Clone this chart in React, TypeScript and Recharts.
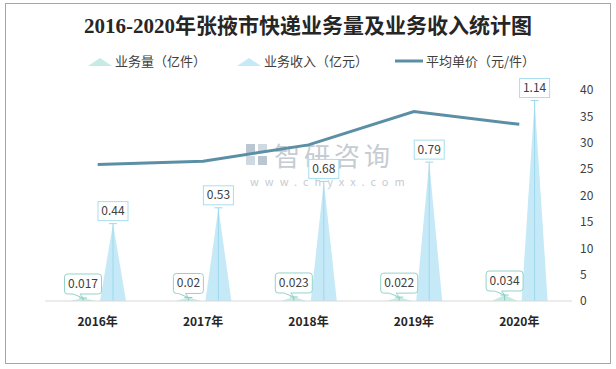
import { Bar, ComposedChart, LabelList, Line, XAxis, YAxis } from "recharts";

const years = ["2016年", "2017年", "2018年", "2019年", "2020年"];
const volume = [0.017, 0.02, 0.023, 0.022, 0.034];
const revenue = [0.44, 0.53, 0.68, 0.79, 1.14];
const unitPrice = [25.9, 26.5, 29.6, 35.9, 33.5];
const priceTicks = [0, 5, 10, 15, 20, 25, 30, 35, 40];

const data = years.map((year, i) => ({
  year,
  volume: volume[i],
  revenue: revenue[i],
  price: unitPrice[i],
}));

const FONT = '"Noto Sans CJK SC", "Noto Sans", sans-serif';

const Peak = (props: any) => {
  const { x, y, width, height, fill, line } = props;
  if (height == null || width == null) return null;
  const cx = x + width / 2;
  const base = y + height;
  return (
    <g>
      <polygon points={`${x},${base} ${cx},${y} ${x + width},${base}`} fill={fill} />
      <line x1={cx} y1={base} x2={cx} y2={y} stroke={line} strokeWidth={1} />
      <line x1={cx - 4} y1={y} x2={cx + 4} y2={y} stroke={line} strokeWidth={1} />
    </g>
  );
};

const RevenueLabel = (props: any) => {
  const { x, y, width, value } = props;
  const cx = x + width / 2;
  const text = String(value);
  const w = text.length * 7 + 2;
  const h = 19;
  const top = y - 3 - h;
  return (
    <g>
      <rect x={cx - w / 2} y={top} width={w} height={h} fill="#fff" stroke="#a6def0" strokeWidth={1} />
      <text x={cx} y={top + h / 2 + 4} textAnchor="middle" fontSize={12} fill="#404040" fontFamily={FONT}>
        {text}
      </text>
    </g>
  );
};

const VolumeLabel = (props: any) => {
  const { x, y, width, value } = props;
  const cx = x + width / 2;
  const text = String(value);
  const w = text.length * 7 + 2;
  const h = 20;
  const bottom = y - 4;
  const top = bottom - h;
  const l = cx - w / 2;
  const r = cx + w / 2;
  const rr = 3;
  const d = `M${l + rr},${top} H${r - rr} Q${r},${top} ${r},${top + rr} V${bottom - rr} Q${r},${bottom} ${r - rr},${bottom} H${cx - 3} L${cx},${y} L${cx - 10},${bottom} H${l + rr} Q${l},${bottom} ${l},${bottom - rr} V${top + rr} Q${l},${top} ${l + rr},${top} Z`;
  return (
    <g>
      <path d={d} fill="#fff" stroke="#94d3c9" strokeWidth={1} />
      <text x={cx} y={top + h / 2 + 4} textAnchor="middle" fontSize={12} fill="#404040" fontFamily={FONT}>
        {text}
      </text>
    </g>
  );
};

const legendItems = [
  { label: "业务量（亿件）", kind: "tri", color: "#c6ebe4", left: 88 },
  { label: "业务收入（亿元）", kind: "tri", color: "#c5e9f7", left: 237 },
  { label: "平均单价（元/件）", kind: "line", color: "#5b8fa5", left: 395 },
];

export default function App() {
  return (
    <div style={{ position: "absolute", left: 0, top: 0, width: 616, height: 369, background: "#fff", fontFamily: FONT }}>
      <div
        style={{
          position: "absolute",
          left: 5,
          top: 3,
          width: 606,
          height: 361,
          border: "1px solid #a6a6a6",
          boxSizing: "border-box",
        }}
      />
      <div
        style={{
          position: "absolute",
          left: 0,
          top: 9,
          width: 616,
          textAlign: "center",
          fontSize: 21,
          fontWeight: "bold",
          color: "#262626",
          fontFamily: '"Liberation Serif", "Noto Sans CJK SC", serif',
        }}
      >
        2016-2020年张掖市快递业务量及业务收入统计图
      </div>
      {legendItems.map((item) => (
        <div
          key={item.label}
          style={{ position: "absolute", left: item.left, top: 51, display: "flex", alignItems: "center", fontSize: 13, color: "#404040" }}
        >
          {item.kind === "tri" ? (
            <svg width={24} height={10} style={{ marginRight: 3 }}>
              <polygon points="0,10 12,2 24,10" fill={item.color} />
            </svg>
          ) : (
            <svg width={28} height={10} style={{ marginRight: 3 }}>
              <line x1={0} y1={5} x2={28} y2={5} stroke={item.color} strokeWidth={3} />
            </svg>
          )}
          {item.label}
        </div>
      ))}
      <div style={{ position: "absolute", left: 246, top: 136, color: "#b8c0c8", opacity: 0.8 }}>
        <div style={{ display: "flex", alignItems: "center" }}>
          <svg width={22} height={22} style={{ marginRight: 6 }}>
            <rect x={0} y={0} width={9} height={9} fill="#aab8c8" />
            <rect x={12} y={0} width={9} height={9} fill="#c4d0dc" />
            <rect x={0} y={12} width={9} height={9} fill="#c4d0dc" />
            <rect x={12} y={12} width={9} height={9} fill="#aab8c8" />
          </svg>
          <span style={{ fontSize: 26, letterSpacing: 4 }}>智研咨询</span>
        </div>
        <div style={{ fontSize: 11, letterSpacing: 6, marginLeft: 4 }}>www.chyxx.com</div>
      </div>
      <div style={{ position: "absolute", left: 0, top: 0 }}>
        <ComposedChart
          width={616}
          height={369}
          data={data}
          margin={{ top: 90, right: 4, bottom: 38, left: 45 }}
          barSize={26}
          barGap={4}
        >
          <XAxis
            dataKey="year"
            axisLine={{ stroke: "#d9d9d9" }}
            tickLine={false}
            height={30}
            tickMargin={10}
            tick={{ fontSize: 12, fontWeight: "bold", fill: "#262626", fontFamily: FONT }}
          />
          <YAxis yAxisId="left" hide domain={[0, 1.2]} />
          <YAxis
            yAxisId="right"
            orientation="right"
            domain={[0, 40]}
            ticks={priceTicks}
            width={40}
            axisLine={false}
            tickLine={false}
            tick={{ fontSize: 12, fill: "#404040", fontFamily: FONT }}
          />
          <Bar
            yAxisId="left"
            dataKey="volume"
            fill="#c6ebe4"
            shape={(p: any) => <Peak {...p} line="#7fcfc0" />}
            isAnimationActive={false}
          >
            <LabelList dataKey="volume" content={VolumeLabel} />
          </Bar>
          <Bar
            yAxisId="left"
            dataKey="revenue"
            fill="#c5e9f7"
            shape={(p: any) => <Peak {...p} line="#9dd8ee" />}
            isAnimationActive={false}
          >
            <LabelList dataKey="revenue" content={RevenueLabel} />
          </Bar>
          <Line
            yAxisId="right"
            dataKey="price"
            stroke="#5b8fa5"
            strokeWidth={3}
            dot={false}
            isAnimationActive={false}
          />
        </ComposedChart>
      </div>
    </div>
  );
}
